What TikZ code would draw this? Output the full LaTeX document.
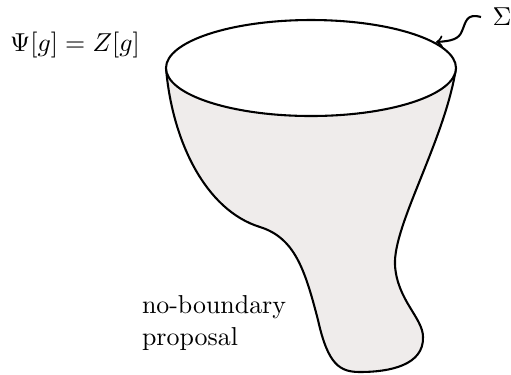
\documentclass[tikz,border=0pt]{standalone}
\usetikzlibrary{arrows}
\definecolor{bodyfill}{RGB}{239,236,235}
\begin{document}
\begin{tikzpicture}[x=0.386pt,y=-0.386pt,
  outline/.style={line width=0.8pt,line join=round},
  lbl/.style={inner sep=0pt,outer sep=0pt,font=\normalsize}]
\useasboundingbox (0,0) rectangle (511,374);
% body (filled)
\fill[bodyfill] (166,68) .. controls (172,140) and (205,210) .. (260,227)
  .. controls (295,238) and (305,270) .. (318,320)
  .. controls (328,365) and (340,372) .. (360,372)
  .. controls (390,372) and (424,365) .. (423,337)
  .. controls (423,318) and (397,300) .. (395,265)
  .. controls (393,225) and (445,140) .. (456,68)
  .. controls (456,94.5) and (391.1,116) .. (311,116)
  .. controls (230.9,116) and (166,94.5) .. (166,68) -- cycle;
% body outline
\draw[outline] (166,68) .. controls (172,140) and (205,210) .. (260,227)
  .. controls (295,238) and (305,270) .. (318,320)
  .. controls (328,365) and (340,372) .. (360,372)
  .. controls (390,372) and (424,365) .. (423,337)
  .. controls (423,318) and (397,300) .. (395,265)
  .. controls (393,225) and (445,140) .. (456,68);
% boundary ellipse
\draw[outline,fill=white] (456,68) .. controls (456,94.5) and (391.1,116) .. (311,116)
  .. controls (230.9,116) and (166,94.5) .. (166,68)
  .. controls (166,41.5) and (230.9,20) .. (311,20)
  .. controls (391.1,20) and (456,41.5) .. (456,68) -- cycle;
% labels
\node[lbl,anchor=west,outer sep=4.5pt] (sigma) at (481,17) {$\Sigma$};
\node[lbl] (psi) at (75,45) {$\Psi[g]=Z[g]$};
\node[lbl,anchor=north west,align=left] (nbp) at (142,296) {no-boundary\\proposal};
\coordinate (tip) at (436,42);
\draw[line width=0.8pt,->] (sigma.west) .. controls (466,13) and (466,22) .. (462,31)
  .. controls (459,39) and (452,41) .. (tip);
\end{tikzpicture}
\end{document}
